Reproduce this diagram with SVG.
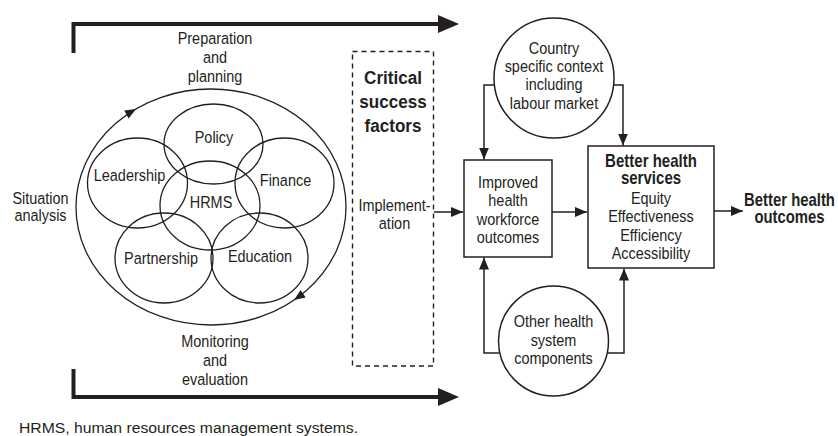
<svg xmlns="http://www.w3.org/2000/svg" width="838" height="436" viewBox="0 0 838 436">
<defs>
<style>
.t{font-family:"Liberation Sans",Arial,sans-serif;font-size:17px;fill:#231f20;text-anchor:middle}
.b{font-family:"Liberation Sans",Arial,sans-serif;font-size:19px;font-weight:bold;fill:#231f20;text-anchor:middle}
.b2{font-family:"Liberation Sans",Arial,sans-serif;font-size:17.5px;font-weight:bold;fill:#231f20;text-anchor:middle}
.ln{fill:none;stroke:#231f20;stroke-width:1.3}
.bx{fill:#fff;stroke:#231f20;stroke-width:1.5}
.cn{fill:none;stroke:#231f20;stroke-width:1.5}
.thick{fill:none;stroke:#231f20;stroke-width:4}
.ah{fill:#231f20}
</style>
<marker id="arr" viewBox="0 0 12 10" refX="12" refY="5" markerWidth="12" markerHeight="10" markerUnits="userSpaceOnUse" orient="auto">
<path d="M0,0 L12,5 L0,10 Z" fill="#231f20"/>
</marker>
</defs>
<rect width="838" height="436" fill="#fff"/>

<g id="cycle-frame">
<path class="thick" d="M73.5,53 V24 H440"/>
<path class="ah" d="M438,15 L459,24 L438,33 Z"/>
<path class="thick" d="M73.5,369 V397 H440"/>
<path class="ah" d="M438,388 L459,397 L438,406 Z"/>
</g>

<g id="cycle">
<ellipse class="ln" cx="211" cy="207" rx="135" ry="118"/>
<path class="ah" d="M0,0 L-11,-4.5 L-11,4.5 Z" transform="translate(136,109) rotate(-30)"/>
<path class="ah" d="M0,0 L-11,-4.5 L-11,4.5 Z" transform="translate(294,300) rotate(146)"/>
</g>

<g id="policy"><ellipse class="ln" cx="213.5" cy="144" rx="49.5" ry="40"/></g>
<g id="leadership"><ellipse class="ln" cx="137.5" cy="183" rx="50" ry="45"/></g>
<g id="finance"><ellipse class="ln" cx="284.5" cy="183" rx="49.5" ry="45"/></g>
<g id="hrms"><ellipse class="ln" cx="210" cy="205.5" rx="50" ry="44.5"/></g>
<g id="partnership"><ellipse class="ln" cx="164" cy="258" rx="49" ry="45"/></g>
<g id="education"><ellipse class="ln" cx="259.5" cy="258" rx="48.5" ry="45"/></g>

<g id="labels-circles">
<g transform="translate(214,0) scale(.85,1)"><text class="t" x="0" y="143">Policy</text></g>
<g transform="translate(129.5,0) scale(.85,1)"><text class="t" x="0" y="181">Leadership</text></g>
<g transform="translate(285.5,0) scale(.85,1)"><text class="t" x="0" y="186">Finance</text></g>
<g transform="translate(211,0) scale(.85,1)"><text class="t" x="0" y="208.5">HRMS</text></g>
<g transform="translate(161,0) scale(.85,1)"><text class="t" x="0" y="264.5">Partnership</text></g>
<g transform="translate(260,0) scale(.85,1)"><text class="t" x="0" y="262">Education</text></g>
</g>

<g id="stage-labels">
<g transform="translate(215,0) scale(.85,1)">
<text class="t" x="0" y="44">Preparation</text>
<text class="t" x="0" y="63">and</text>
<text class="t" x="0" y="82">planning</text>
</g>
<g transform="translate(40.5,0) scale(.85,1)">
<text class="t" x="0" y="204">Situation</text>
<text class="t" x="0" y="221">analysis</text>
</g>
<g transform="translate(215,0) scale(.85,1)">
<text class="t" x="0" y="347.5">Monitoring</text>
<text class="t" x="0" y="366">and</text>
<text class="t" x="0" y="385">evaluation</text>
</g>
</g>

<g id="critical-success-factors">
<rect x="352.5" y="51.5" width="81" height="314.5" fill="none" stroke="#231f20" stroke-width="1.4" stroke-dasharray="5,4"/>
<g transform="translate(393,0) scale(.9,1)">
<text class="b" x="0" y="84">Critical</text>
<text class="b" x="0" y="108">success</text>
<text class="b" x="0" y="132">factors</text>
</g>
<g transform="translate(394.5,0) scale(.85,1)">
<text class="t" x="0" y="211.5">Implement-</text>
<text class="t" x="0" y="229">ation</text>
</g>
</g>

<g id="improved-outcomes">
<rect class="bx" x="464" y="160" width="88" height="97"/>
<g transform="translate(508,0) scale(.85,1)">
<text class="t" x="0" y="188">Improved</text>
<text class="t" x="0" y="206.5">health</text>
<text class="t" x="0" y="225">workforce</text>
<text class="t" x="0" y="243">outcomes</text>
</g>
</g>

<g id="country-context">
<circle class="bx" cx="554" cy="78" r="60"/>
<g transform="translate(554,0) scale(.85,1)">
<text class="t" x="0" y="54">Country</text>
<text class="t" x="0" y="72">specific context</text>
<text class="t" x="0" y="90.5">including</text>
<text class="t" x="0" y="109">labour market</text>
</g>
</g>

<g id="better-services">
<rect class="bx" x="588" y="146" width="126" height="122"/>
<g transform="translate(651,0) scale(.86,1)">
<text class="b2" x="0" y="167">Better health</text>
<text class="b2" x="0" y="184">services</text>
</g>
<g transform="translate(651,0) scale(.85,1)">
<text class="t" x="0" y="204">Equity</text>
<text class="t" x="0" y="222.5">Effectiveness</text>
<text class="t" x="0" y="241">Efficiency</text>
<text class="t" x="0" y="259.5">Accessibility</text>
</g>
</g>

<g id="other-components">
<circle class="bx" cx="553.5" cy="341" r="55"/>
<g transform="translate(553.5,0) scale(.85,1)">
<text class="t" x="0" y="327.5">Other health</text>
<text class="t" x="0" y="346">system</text>
<text class="t" x="0" y="364">components</text>
</g>
</g>

<g id="better-outcomes">
<g transform="translate(789.5,0) scale(.85,1)">
<text class="b2" x="0" y="206.5">Better health</text>
<text class="b2" x="0" y="223">outcomes</text>
</g>
</g>

<g id="connectors">
<path class="cn" d="M434,212 H463" marker-end="url(#arr)"/>
<path class="cn" d="M552,212 H587" marker-end="url(#arr)"/>
<path class="cn" d="M714,211 H743" marker-end="url(#arr)"/>
<path class="cn" d="M494,85 H484 V159.5" marker-end="url(#arr)"/>
<path class="cn" d="M614,85 H623 V145.5" marker-end="url(#arr)"/>
<path class="cn" d="M499,353 H484 V257.5" marker-end="url(#arr)"/>
<path class="cn" d="M608,353 H624 V268.5" marker-end="url(#arr)"/>
</g>

<g id="footnote">
<text x="19" y="433" textLength="339" lengthAdjust="spacingAndGlyphs" style="font-family:'Liberation Sans',Arial,sans-serif;font-size:15.5px;fill:#231f20">HRMS, human resources management systems.</text>
</g>
</svg>
